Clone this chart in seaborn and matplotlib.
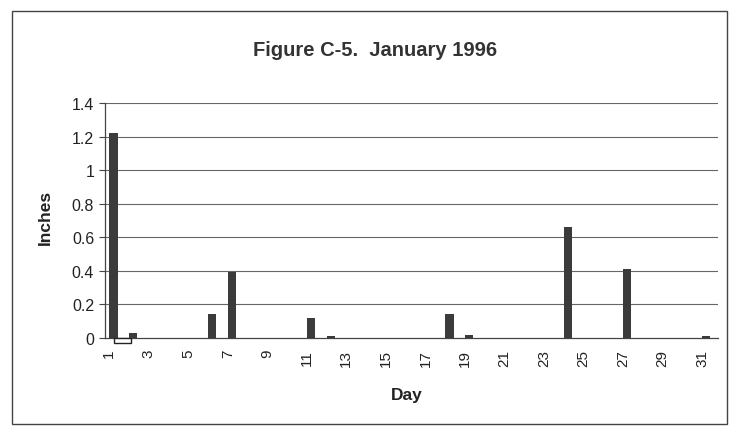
"""
Figure C-5: daily rainfall, January 1996
"""

import numpy as np
import pandas as pd
import seaborn as sns
import matplotlib.pyplot as plt
from matplotlib.patches import Rectangle

# --- Data ---
days = list(range(1, 32))
# dark series (inches); NaN = no bar
rain = {1: 1.22, 2: 0.03, 6: 0.14, 7: 0.39, 11: 0.12, 12: 0.01,
        18: 0.14, 19: 0.02, 24: 0.66, 27: 0.41, 31: 0.01}
# open (white) series: only the small mark on day 2
trace = {2: -0.03}
ytick_vals = [0, 0.2, 0.4, 0.6, 0.8, 1.0, 1.2, 1.4]
ytick_labels = ["0", "0.2", "0.4", "0.6", "0.8", "1", "1.2", "1.4"]
xtick_days = list(range(1, 32, 2))

rows = []
for d in days:
    rows.append({"Day": str(d), "Series": "trace", "Inches": trace.get(d, np.nan)})
    rows.append({"Day": str(d), "Series": "rain", "Inches": rain.get(d, np.nan)})
df = pd.DataFrame(rows)

sns.set_style("white")
plt.rcParams["font.family"] = ["Liberation Sans", "DejaVu Sans"]

fig = plt.figure(figsize=(7.31, 4.35), dpi=100)
ax = fig.add_axes([0.144, 0.221, 0.838, 0.540])

sns.barplot(data=df, x="Day", y="Inches", hue="Series", order=[str(d) for d in days],
            hue_order=["trace", "rain"], palette={"trace": "white", "rain": "#3b3b3b"},
            width=0.85, errorbar=None, legend=False, ax=ax, zorder=3, linewidth=0)
for p in ax.patches:
    p.set_clip_on(False)
    if p.get_facecolor()[0] > 0.9:
        # open mark is drawn a bit wider than the bars
        cx = p.get_x() + p.get_width() / 2
        p.set_width(0.85)
        p.set_x(cx - 0.55)
        p.set_edgecolor("#222222")
        p.set_linewidth(1.0)

# --- Axes styling ---
ax.set_xlim(-0.2, 30.8)
ax.set_ylim(0, 1.4)
ax.set_yticks(ytick_vals)
ax.set_yticklabels(ytick_labels, fontsize=11.5, color="#222222")
ax.set_xticks([d - 1 for d in xtick_days])
ax.set_xticklabels([str(d) for d in xtick_days], rotation=90, fontsize=11, color="#222222")
ax.set_xticks([d - 0.5 for d in xtick_days[:-1]], minor=True)
ax.tick_params(axis="x", which="major", length=0, pad=8)
ax.tick_params(axis="x", which="minor", length=4, width=0.8, color="#444444", direction="out")
ax.tick_params(axis="y", length=4, width=0.8, color="#444444", direction="out", left=True, pad=4)

for v in ytick_vals[1:]:
    ax.axhline(v, color="#666666", lw=0.8, zorder=1)

for side in ["top", "right"]:
    ax.spines[side].set_visible(False)
for side in ["left", "bottom"]:
    ax.spines[side].set_color("#444444")
    ax.spines[side].set_linewidth(0.9)

ax.set_xlabel("")
ax.set_ylabel("")
fig.text(0.062, 0.50, "Inches", rotation=90, ha="center", va="center",
         fontsize=12.5, fontweight="bold", color="#222222")
fig.text(0.557, 0.090, "Day", ha="center", va="center",
         fontsize=12.5, fontweight="bold", color="#222222")
fig.text(0.513, 0.885, "Figure C-5.  January 1996", ha="center", va="center",
         fontsize=14.5, fontweight="bold", color="#333333")

# chart border
fig.patches.append(Rectangle((0.016, 0.023), 0.979, 0.949, transform=fig.transFigure,
                             fill=False, edgecolor="#444444", lw=1.0))

plt.savefig("out.png", dpi=100)
